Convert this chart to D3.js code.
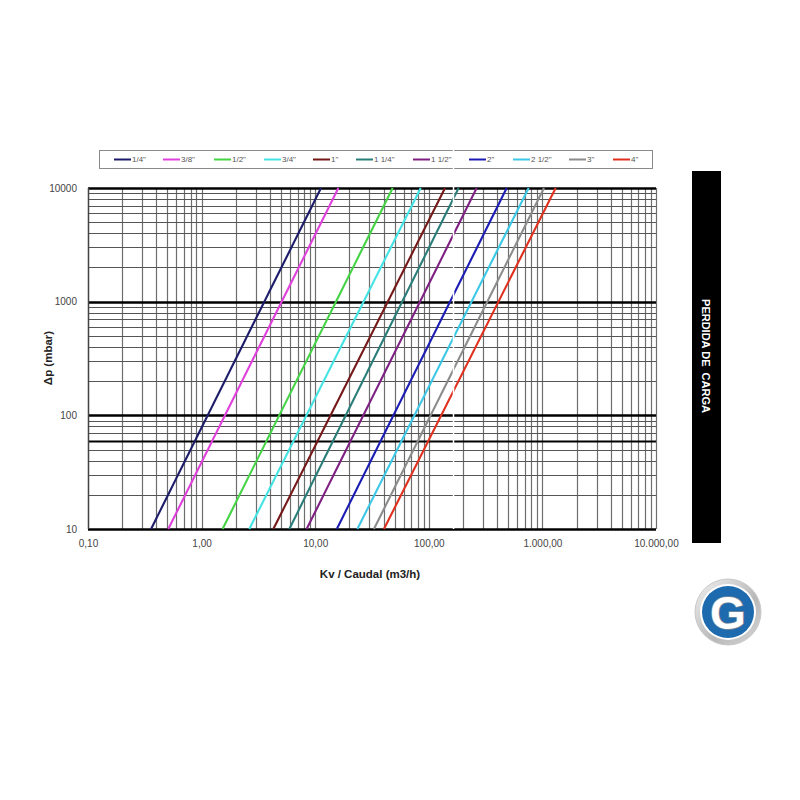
<!DOCTYPE html>
<html>
<head>
<meta charset="utf-8">
<script src="https://cdn.jsdelivr.net/npm/d3@7"></script>
<style>
  body { margin: 0; background: #fff; }
  svg { display: block; font-family: "Liberation Sans", Arial, sans-serif; }
</style>
</head>
<body>
<div id="chart"></div>
<script>
// Pipe sizes and colours (legend order)
const sizes = ['1/4"', '3/8"', '1/2"', '3/4"', '1"', '1 1/4"', '1 1/2"', '2"', '2 1/2"', '3"', '4"'];
const colors = ['#1c1c6a', '#e040dc', '#44d444', '#44e4e4', '#761818', '#2a7e7a', '#7e2082', '#1c1cb4', '#3cc8e6', '#8c8c8c', '#e0301e'];

// Flow (m3/h) read at the bottom (10 mbar) and top (10000 mbar) of the chart
const dpRange = [10, 10000];
const flowAt10 = [0.359, 0.509, 1.53, 2.63, 4.28, 5.92, 8.41, 15.5, 23.5, 32.9, 40.3];
const flowAt10000 = [11.25, 16.0, 48.1, 84.9, 139, 183, 264, 485, 757, 1033, 1309];

// Axis ticks
const xTicks = [0.1, 1, 10, 100, 1000, 10000];
const xTickLabels = ['0,10', '1,00', '10,00', '100,00', '1.000,00', '10.000,00'];
const yTicks = [10, 100, 1000, 10000];
const yTickLabels = ['10', '100', '1000', '10000'];

const width = 800;
const height = 800;
const plot = { left: 88, right: 656, top: 188, bottom: 529 };

const svg = d3.select('#chart')
  .append('svg')
  .attr('width', width)
  .attr('height', height);

const x = d3.scaleLog().domain([0.1, 10000]).range([plot.left, plot.right]);
const y = d3.scaleLog().domain([10, 10000]).range([plot.bottom, plot.top]);

// Minor grid values (1..9 in every decade)
const xGrid = [];
for (let e = -1; e < 4; e++) for (let m = 1; m < 10; m++) xGrid.push(m * Math.pow(10, e));
xGrid.push(10000);
const yGrid = [];
for (let e = 1; e < 4; e++) for (let m = 1; m < 10; m++) yGrid.push(m * Math.pow(10, e));
yGrid.push(10000);

const grid = svg.append('g');
grid.selectAll('.vx')
  .data(xGrid)
  .enter()
  .append('line')
  .attr('x1', d => Math.round(x(d)) + 0.5)
  .attr('x2', d => Math.round(x(d)) + 0.5)
  .attr('y1', plot.top)
  .attr('y2', plot.bottom)
  .attr('stroke', '#6e6e6e')
  .attr('stroke-width', 1.2);

grid.selectAll('.hy')
  .data(yGrid)
  .enter()
  .append('line')
  .attr('x1', plot.left)
  .attr('x2', plot.right)
  .attr('y1', d => Math.round(y(d)) + 0.5)
  .attr('y2', d => Math.round(y(d)) + 0.5)
  .attr('stroke', d => (yTicks.includes(d) || d === 60) ? '#000' : '#555')
  .attr('stroke-width', d => yTicks.includes(d) ? 2.6 : (d === 60 ? 2 : 1.1));

// Left frame
grid.append('line')
  .attr('x1', plot.left + 0.5).attr('x2', plot.left + 0.5)
  .attr('y1', plot.top).attr('y2', plot.bottom)
  .attr('stroke', '#444').attr('stroke-width', 1.4);

// Series lines
const series = sizes.map((s, i) => ({
  name: s,
  color: colors[i],
  points: [[flowAt10[i], dpRange[0]], [flowAt10000[i], dpRange[1]]]
}));

const line = d3.line().x(d => x(d[0])).y(d => y(d[1]));
svg.append('g')
  .selectAll('path')
  .data(series)
  .enter()
  .append('path')
  .attr('d', d => line(d.points))
  .attr('fill', 'none')
  .attr('stroke', d => d.color)
  .attr('stroke-width', 2.1);

// Axes
const xAxis = svg.append('g')
  .attr('transform', `translate(0,${plot.bottom + 8})`)
  .call(d3.axisBottom(x).tickValues(xTicks).tickFormat((d, i) => xTickLabels[i]).tickSize(0));
xAxis.select('.domain').remove();
xAxis.selectAll('text')
  .attr('font-family', '"Liberation Sans", Arial, sans-serif')
  .attr('font-size', 10)
  .attr('fill', '#444');

const yAxis = svg.append('g')
  .attr('transform', `translate(${plot.left - 8},0)`)
  .call(d3.axisLeft(y).tickValues(yTicks).tickFormat((d, i) => yTickLabels[i]).tickSize(0));
yAxis.select('.domain').remove();
yAxis.selectAll('text')
  .attr('font-family', '"Liberation Sans", Arial, sans-serif')
  .attr('font-size', 10)
  .attr('fill', '#444');

// Axis titles
svg.append('text')
  .attr('x', 370)
  .attr('y', 578)
  .attr('text-anchor', 'middle')
  .attr('font-size', 11.5)
  .attr('font-weight', 'bold')
  .attr('fill', '#222')
  .text('Kv / Caudal (m3/h)');

svg.append('text')
  .attr('transform', 'translate(52,358) rotate(-90)')
  .attr('text-anchor', 'middle')
  .attr('font-size', 11.5)
  .attr('font-weight', 'bold')
  .attr('fill', '#222')
  .text('Δp (mbar)');

// Legend
const legendX = [114, 163, 214, 264, 313, 356, 413, 469, 513, 569, 613];
const legend = svg.append('g');
legend.append('rect')
  .attr('x', 99.5).attr('y', 150.5)
  .attr('width', 553).attr('height', 18)
  .attr('fill', '#fff')
  .attr('stroke', '#8a8a8a');
const items = legend.selectAll('.item')
  .data(series)
  .enter()
  .append('g')
  .attr('transform', (d, i) => `translate(${legendX[i]},159.5)`);
items.append('line')
  .attr('x1', 0).attr('x2', 17)
  .attr('stroke', d => d.color)
  .attr('stroke-width', 2);
items.append('text')
  .attr('x', 18)
  .attr('dy', '0.35em')
  .attr('font-size', 8)
  .attr('fill', '#555')
  .text(d => d.name);

// White seam across the scanned chart
svg.append('line')
  .attr('x1', 453.5).attr('x2', 453.5)
  .attr('y1', 150).attr('y2', plot.bottom)
  .attr('stroke', '#fff')
  .attr('stroke-width', 1.5);

// Side banner
svg.append('rect')
  .attr('x', 692).attr('y', 171)
  .attr('width', 29).attr('height', 372)
  .attr('fill', '#000');
svg.append('text')
  .attr('transform', 'translate(702,356) rotate(90)')
  .attr('text-anchor', 'middle')
  .attr('font-size', 11)
  .attr('font-weight', 'bold')
  .attr('fill', '#fff')
  .attr('xml:space', 'preserve')
  .style('white-space', 'pre')
  .text('PERDIDA DE  CARGA');

// Logo
const logo = svg.append('g').attr('transform', 'translate(728,612)');
const defs = svg.append('defs');
const grad = defs.append('linearGradient')
  .attr('id', 'ring')
  .attr('x1', 0).attr('y1', 0).attr('x2', 1).attr('y2', 1);
grad.append('stop').attr('offset', '0%').attr('stop-color', '#f2f2f2');
grad.append('stop').attr('offset', '60%').attr('stop-color', '#b8b8b8');
grad.append('stop').attr('offset', '100%').attr('stop-color', '#d8d8d8');
logo.append('circle').attr('r', 33).attr('fill', 'url(#ring)').attr('stroke', '#c8c8c8');
logo.append('circle').attr('r', 28).attr('fill', '#fff');
logo.append('circle').attr('r', 26).attr('fill', '#1e6aae');
logo.append('text')
  .attr('text-anchor', 'middle')
  .attr('dy', '0.36em')
  .attr('font-size', 46)
  .attr('font-weight', 'bold')
  .attr('fill', '#fff')
  .attr('stroke', '#7c8a98')
  .attr('stroke-width', 1.5)
  .style('paint-order', 'stroke')
  .text('G');
</script>
</body>
</html>
